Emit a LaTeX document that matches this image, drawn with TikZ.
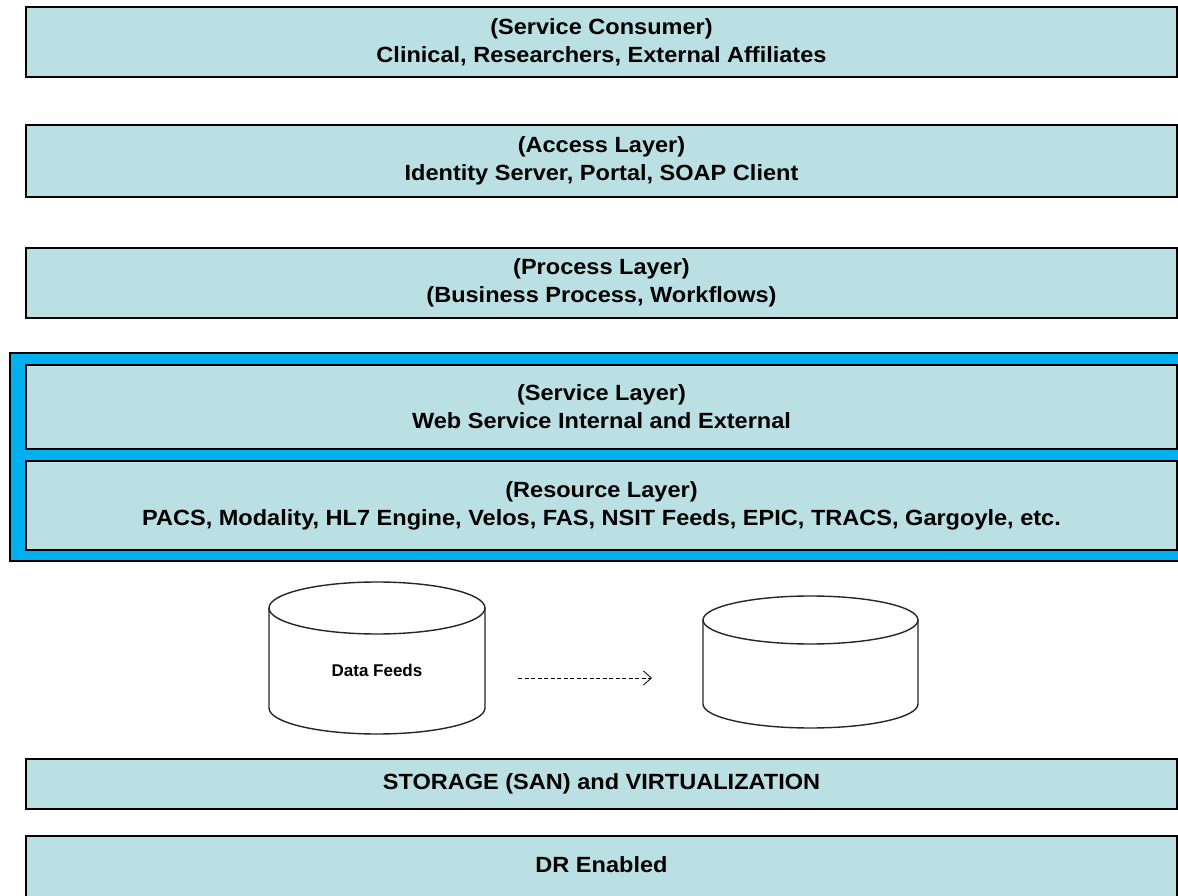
\documentclass[tikz,border=0pt]{standalone}
\usepackage{fontspec}
\setmainfont{Liberation Sans}
\newfontfamily\layerfont[FakeStretch=1.07]{Liberation Sans}
\usetikzlibrary{arrows.meta}
\definecolor{layerfill}{RGB}{186,224,227}
\definecolor{framefill}{RGB}{0,176,240}
\tikzset{
  layer/.style={draw=black, line width=2pt, fill=layerfill},
  layertext/.style={align=center, font=\layerfont\fontsize{22}{28}\selectfont\bfseries, inner sep=0pt},
  db/.style={draw=black!85, line width=1.4pt, fill=white},
  flow/.style={dashed, line width=0.8pt, dash pattern=on 4pt off 2.5pt, -{Straight Barb[length=8pt,width=14pt,line width=0.8pt]}}
}
\begin{document}
\begin{tikzpicture}[x=1pt,y=1pt]
\useasboundingbox (0,0) rectangle (1178,895);
% top layers
\draw[layer] (26,818) rectangle (1177,888);
\node[layertext] (consumer) at (601.5,853) {(Service Consumer)\\Clinical, Researchers, External Affiliates};
\draw[layer] (26,698) rectangle (1177,770);
\node[layertext] (access) at (601.5,734) {(Access Layer)\\Identity Server, Portal, SOAP Client};
\draw[layer] (26,577) rectangle (1177,647);
\node[layertext] (process) at (601.5,612) {(Process Layer)\\(Business Process, Workflows)};
% blue frame
\draw[draw=black, line width=2pt, fill=framefill] (10,334) rectangle (1190,542);
\draw[layer] (26,446) rectangle (1177,530);
\node[layertext] (service) at (601.5,488) {(Service Layer)\\Web Service Internal and External};
\draw[layer] (26,345) rectangle (1177,434);
\node[layertext] (resource) at (601.5,389.5) {(Resource Layer)\\PACS, Modality, HL7 Engine, Velos, FAS, NSIT Feeds, EPIC, TRACS, Gargoyle, etc.};
% cylinders
\draw[db] (269,287) -- (269,187) arc[start angle=180,end angle=360,x radius=108,y radius=26] -- (485,287);
\draw[db] (377,287) ellipse[x radius=108,y radius=26];
\node[font=\fontsize{17}{20}\selectfont\bfseries] (feeds) at (377,225) {Data Feeds};
\draw[db] (703,275) -- (703,191) arc[start angle=180,end angle=360,x radius=107.5,y radius=24] -- (918,275);
\draw[db] (810.5,275) ellipse[x radius=107.5,y radius=24];
\coordinate (flowstart) at (518,217);
\coordinate (flowend) at (652,217);
\draw[flow] (flowstart) -- (flowend);
% bottom layers
\draw[layer] (26,86) rectangle (1177,136);
\node[layertext] (storage) at (601.5,111) {STORAGE (SAN) and VIRTUALIZATION};
\draw[layer] (26,-10) rectangle (1177,59);
\node[layertext] (dr) at (601.5,30) {DR Enabled};
\end{tikzpicture}
\end{document}
